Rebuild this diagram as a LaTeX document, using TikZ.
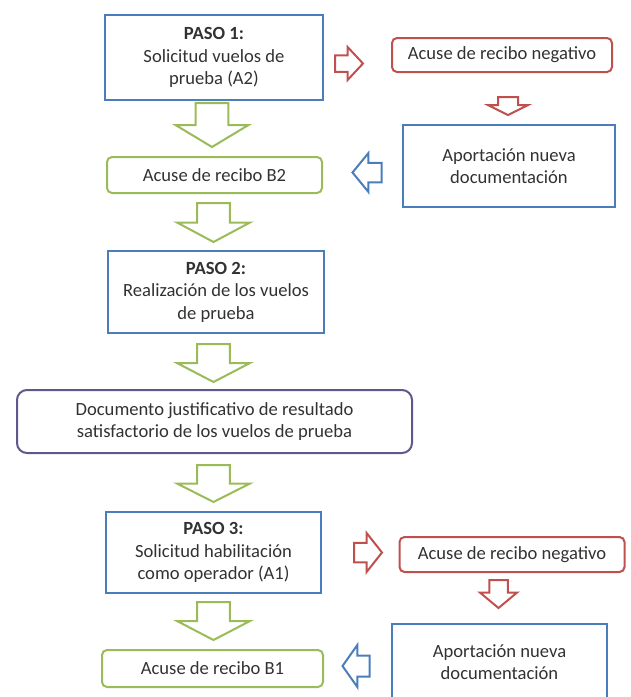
\documentclass[tikz,border=0pt]{standalone}
\usepackage{fontspec}
\setmainfont{Carlito}
\definecolor{cblue}{RGB}{74,126,187}
\definecolor{cred}{RGB}{192,80,77}
\definecolor{cgreen}{RGB}{155,187,89}
\definecolor{cpurple}{RGB}{96,88,140}
\definecolor{txt}{RGB}{50,50,50}
\tikzset{
  box/.style={draw, line width=2pt, align=center, text=txt, inner sep=0pt,
    font=\fontsize{18.6}{22.5}\selectfont},
  bluebox/.style={box, draw=cblue},
  redbox/.style={box, draw=cred, rounded corners=5pt},
  greenbox/.style={box, draw=cgreen, rounded corners=5pt},
  purplebox/.style={box, draw=cpurple, rounded corners=10pt},
  blkbig/.pic={\draw[pic actions, line width=2pt, line join=miter]
     (-0.5,-0.225) -- (0,-0.225) -- (0,-0.5) -- (0.5,0) -- (0,0.5) -- (0,0.225) -- (-0.5,0.225) -- cycle;},
  blksmall/.pic={\draw[pic actions, line width=2pt, line join=miter]
     (-0.5,-0.25) -- (-0.05,-0.25) -- (-0.05,-0.5) -- (0.5,0) -- (-0.05,0.5) -- (-0.05,0.25) -- (-0.5,0.25) -- cycle;},
}
\begin{document}
\begin{tikzpicture}[x=1pt,y=-1pt]
\clip (0,0) rectangle (630,697);
\useasboundingbox (0,0) rectangle (630,697);
% boxes
\node[bluebox, minimum width=218pt, minimum height=85pt] (paso1) at (214,57.5)
  {\textbf{PASO 1:}\\Solicitud vuelos de\\prueba (A2)};
\node[redbox, minimum width=220pt, minimum height=34pt] (neg1) at (502,55)
  {Acuse de recibo negativo};
\node[bluebox, minimum width=212pt, minimum height=82pt] (aport1) at (509,166)
  {Aportación nueva\\documentación};
\node[greenbox, minimum width=215pt, minimum height=36pt] (b2) at (214.5,175)
  {Acuse de recibo B2};
\node[bluebox, minimum width=216pt, minimum height=82pt] (paso2) at (216,292)
  {\textbf{PASO 2:}\\Realización de los vuelos\\de prueba};
\node[purplebox, minimum width=395pt, minimum height=63pt] (doc) at (214.5,421.5)
  {Documento justificativo de resultado\\satisfactorio de los vuelos de prueba};
\node[bluebox, minimum width=215pt, minimum height=81pt] (paso3) at (213.5,552.5)
  {\textbf{PASO 3:}\\Solicitud habilitación\\como operador (A1)};
\node[redbox, minimum width=225pt, minimum height=35pt] (neg2) at (512,554.5)
  {Acuse de recibo negativo};
\node[bluebox, minimum width=215pt, minimum height=76pt] (aport2) at (499.5,662)
  {Aportación nueva\\documentación};
\node[greenbox, minimum width=221pt, minimum height=37pt] (b1) at (212.5,668.5)
  {Acuse de recibo B1};
% arrow positions
\coordinate (g1) at (212,125);
\coordinate (g2) at (213.5,222.5);
\coordinate (g3) at (213.5,363);
\coordinate (g4) at (213.5,483.5);
\coordinate (g5) at (213.5,621);
\coordinate (r1) at (349,63.5);
\coordinate (rd1) at (508,106);
\coordinate (bl1) at (367,172.5);
\coordinate (r2) at (368,552.5);
\coordinate (rd2) at (498.5,594);
\coordinate (bl2) at (356,666);
% block arrows
\pic[draw=cgreen, rotate=-90, xscale=44, yscale=73] at (g1) {blkbig};
\pic[draw=cgreen, rotate=-90, xscale=39, yscale=73] at (g2) {blkbig};
\pic[draw=cgreen, rotate=-90, xscale=38, yscale=73] at (g3) {blkbig};
\pic[draw=cgreen, rotate=-90, xscale=37, yscale=73] at (g4) {blkbig};
\pic[draw=cgreen, rotate=-90, xscale=38, yscale=73] at (g5) {blkbig};
\pic[draw=cred, xscale=28, yscale=33] at (r1) {blksmall};
\pic[draw=cred, rotate=-90, xscale=18, yscale=40] at (rd1) {blksmall};
\pic[draw=cblue, rotate=180, xscale=29, yscale=39] at (bl1) {blksmall};
\pic[draw=cred, xscale=28, yscale=39] at (r2) {blksmall};
\pic[draw=cred, rotate=-90, xscale=28, yscale=37] at (rd2) {blksmall};
\pic[draw=cblue, rotate=180, xscale=27, yscale=42] at (bl2) {blksmall};
\end{tikzpicture}
\end{document}
